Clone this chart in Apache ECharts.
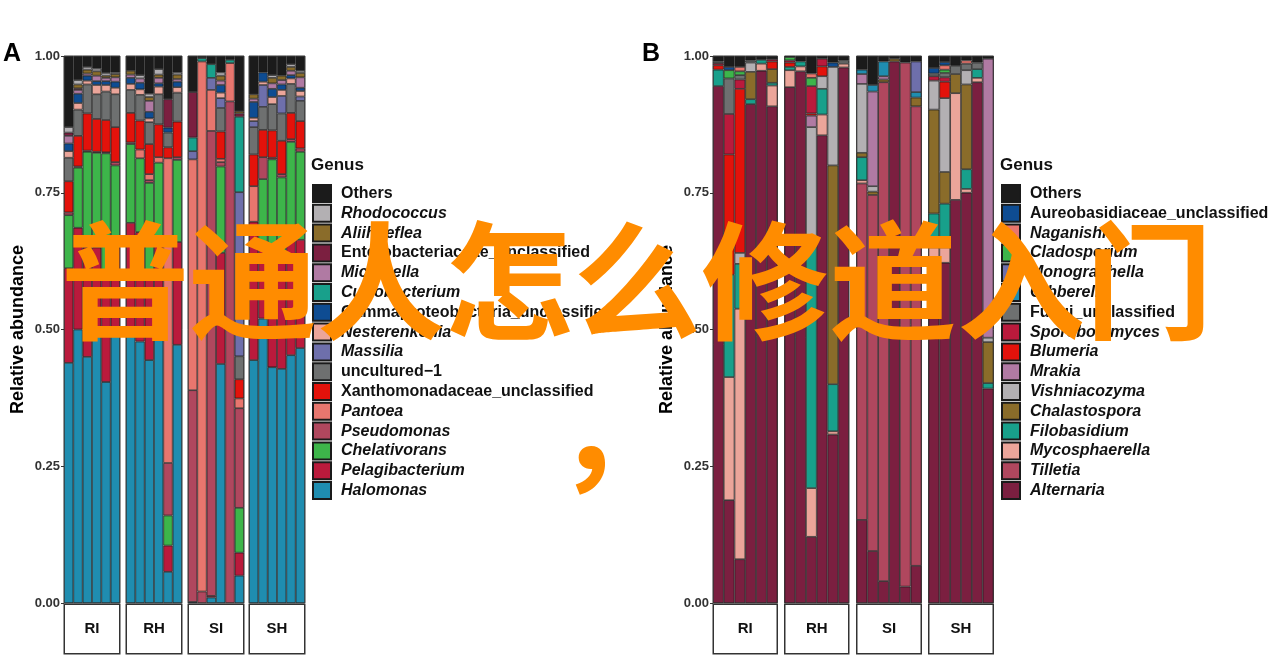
<!DOCTYPE html>
<html><head><meta charset="utf-8">
<script src="https://cdn.jsdelivr.net/npm/echarts@6/dist/echarts.min.js"></script>
<style>html,body{margin:0;padding:0;background:#fff}#c{width:1270px;height:663px}</style>
</head><body><div id="c"></div>
<script>
// ---------- shared ----------
const facets = ['RI', 'RH', 'SI', 'SH'];
const samples = ['1', '2', '3', '4', '5', '6'];
const yTicks = [0, 0.25, 0.5, 0.75, 1];

// ---------- Panel A (bacteria), legend order top -> bottom ----------
const bacGenera = ['Others', 'Rhodococcus', 'Aliihoeflea', 'Enterobacteriaceae_unclassified', 'Microcella',
  'Curtobacterium', 'Gammaproteobacteria_unclassified', 'Nesterenkonia', 'Massilia', 'uncultured\u22121',
  'Xanthomonadaceae_unclassified', 'Pantoea', 'Pseudomonas', 'Chelativorans', 'Pelagibacterium', 'Halomonas'];
const bacUpright = ['Others', 'Enterobacteriaceae_unclassified', 'Gammaproteobacteria_unclassified', 'uncultured\u22121', 'Xanthomonadaceae_unclassified'];
const bacColors = ['#1b1b1b', '#b3b0b3', '#8a6c2a', '#7b1f40', '#b07aa3', '#18a08b', '#0e4c92', '#eba59a',
  '#6e6fab', '#6e7070', '#e3120b', '#e8766e', '#b0475e', '#3db54a', '#ba1a3c', '#1f8db0'];
// values per bar: RI1..6, RH1..6, SI1..6, SH1..6
const bacOthers         = [.13,.044,.02,.023,.031,.03, .027,.035,.069,.024,.079,.03, .066,.004,.015,.03,.007,.101, .07,.03,.035,.036,.015,.027];
const bacRhodococcus    = [.01,.008,.005,.005,.005,.003, 0,.006,.006,.01,0,.004, 0,0,0,.006,0,0, 0,0,.005,0,.005,.004];
const bacAliihoeflea    = [0,.007,.007,.008,.004,.006, .007,0,.007,.006,0,.008, 0,0,0,.009,0,.004, .008,0,.01,.008,.007,.008];
const bacEntero         = [.006,.003,0,0,0,0, 0,0,0,0,.052,0, .083,0,0,0,0,.006, 0,0,0,0,0,0];
const bacMicrocella     = [.014,.007,.004,.01,.006,.008, .006,.008,.02,.01,0,.005, 0,0,0,.008,0,0, .006,0,.01,.008,.008,.019];
const bacCurtobacterium = [0,0,0,0,0,0, 0,0,0,0,0,0, .025,.006,.025,0,.006,.138, 0,0,0,0,0,0];
const bacGamma          = [.014,.017,.009,.007,.007,.011, .011,.012,.012,.006,.009,.01, 0,0,0,.014,0,0, .029,.017,.015,.01,.006,.006];
const bacNesterenkonia  = [.012,.012,.007,.017,.012,.012, .011,.01,.007,.014,0,.01, 0,0,0,.01,0,0, .006,.006,.013,.011,.01,.01];
const bacMassilia       = [0,0,0,0,0,0, 0,0,0,0,0,0, .015,0,.022,.018,0,.30, .011,.04,0,.032,0,.008];
const bacUncultured     = [.043,.048,.053,.045,.052,.06, .042,.047,.04,.055,.027,.053, 0,0,0,.043,0,.042, .05,.042,.048,.05,.053,.037];
const bacXantho         = [.057,.056,.068,.06,.059,.064, .054,.053,.055,.06,.02,.065, 0,0,0,.05,0,.035, .058,.05,.05,.061,.048,.05];
const bacPantoea        = [0,0,0,0,0,0, 0,.016,.011,.01,.557,0, .422,.969,.075,.006,.07,.018, .065,0,0,0,0,0];
const bacPseudomonas    = [.005,.002,.002,.002,.002,.006, .003,0,.005,0,.096,.005, .387,.021,.85,.008,.917,.182, 0,.04,.003,.006,.005,.006];
const bacChelativorans  = [.097,.11,.175,.173,.222,.15, .144,.135,.168,.145,.055,.15, 0,0,0,.158,0,.082, 0,.115,.18,.14,.173,.161];
const bacPelagibacterium= [.173,.186,.20,.15,.196,.15, .205,.20,.156,.17,.048,.188, 0,0,.003,.203,0,.042, .253,.14,.20,.21,.217,.198];
const bacHalomonas      = [.439,.50,.45,.50,.404,.50, .49,.478,.444,.49,.057,.472, .002,0,.01,.437,0,.05, .444,.52,.431,.428,.453,.466];
const bacValues = [bacOthers, bacRhodococcus, bacAliihoeflea, bacEntero, bacMicrocella, bacCurtobacterium, bacGamma,
  bacNesterenkonia, bacMassilia, bacUncultured, bacXantho, bacPantoea, bacPseudomonas, bacChelativorans, bacPelagibacterium, bacHalomonas];

// ---------- Panel B (fungi), legend order top -> bottom ----------
const funGenera = ['Others', 'Aureobasidiaceae_unclassified', 'Naganishia', 'Cladosporium', 'Monographella', 'Gibberella',
  'Fungi_unclassified', 'Sporobolomyces', 'Blumeria', 'Mrakia', 'Vishniacozyma', 'Chalastospora', 'Filobasidium',
  'Mycosphaerella', 'Tilletia', 'Alternaria'];
const funUpright = ['Others', 'Aureobasidiaceae_unclassified', 'Fungi_unclassified'];
const funColors = ['#1b1b1b', '#0e4c92', '#e8766e', '#3db54a', '#6e6fab', '#1f8db0', '#6e7070', '#ba1a3c', '#e3120b',
  '#b07aa3', '#b3b0b3', '#8a6c2a', '#18a08b', '#eba59a', '#b0475e', '#7b1f40'];
const funOthers         = [.01,.02,.02,.008,.007,.006, .002,.01,.032,.005,.012,.008, .025,.053,.01,.005,.012,.01, .022,.011,.018,.008,.012,.005];
const funAureo          = [0,.006,0,0,0,0, 0,0,0,0,.008,0, 0,0,0,0,0,0, .01,.006,0,0,0,0];
const funNaganishia     = [0,0,.008,0,0,0, 0,0,.008,0,0,0, 0,0,0,0,0,0, 0,.008,0,.006,0,0];
const funCladosporium   = [0,.015,.007,0,0,0, .006,0,.015,0,0,0, 0,0,0,0,0,0, 0,.006,0,0,0,0];
const funMonographella  = [0,0,0,0,0,0, 0,0,0,0,0,0, 0,0,0,0,0,.056, 0,0,0,0,0,0];
const funGibberella     = [0,0,0,0,0,0, 0,0,0,0,0,0, .008,.012,.027,0,0,.01, 0,0,0,0,0,0];
const funFungiUnc       = [.003,.065,.008,.004,0,0, 0,0,0,0,0,.006, 0,0,0,0,0,0, .005,.008,.015,.012,.012,0];
const funSporobolomyces = [.004,.074,.017,0,0,.004, .004,0,.05,.014,0,0, 0,0,0,0,0,0, .008,.008,0,0,0,0];
const funBlumeria       = [.008,.22,.30,0,0,.014, .008,0,.004,.018,0,0, 0,0,0,0,0,0, 0,.03,0,0,0,0];
const funMrakia         = [0,0,0,0,0,0, 0,0,.021,0,0,0, .018,.173,.006,0,0,0, 0,0,0,0,0,.51];
const funVishniacozyma  = [0,0,.02,.017,0,0, 0,0,.21,.023,.18,0, .126,.01,0,0,0,0, .053,.135,0,.026,0,.008];
const funChalastospora  = [0,0,0,.05,0,.025, 0,0,0,0,.40,0, .008,.006,.005,.005,0,.016, .19,.058,.035,.155,0,.075];
const funFilobasidium   = [.03,.187,.082,.009,.007,.005, .006,.009,.45,.047,.086,0, .042,0,0,0,0,0, .062,.08,0,.036,.016,.01];
const funMycosphaerella = [0,.225,.458,0,.013,.038, .031,.009,.089,.038,.006,.007, .006,0,0,0,0,0, .05,.028,.195,.007,.008,0];
const funTilletia       = [0,0,0,0,0,0, 0,0,0,0,0,0, .615,.651,.912,0,.958,.84, 0,0,0,0,0,0];
const funAlternaria     = [.945,.188,.08,.912,.973,.908, .943,.972,.121,.855,.308,.979, .152,.095,.04,.99,.03,.068, .60,.622,.737,.75,.952,.392];
const funValues = [funOthers, funAureo, funNaganishia, funCladosporium, funMonographella, funGibberella, funFungiUnc,
  funSporobolomyces, funBlumeria, funMrakia, funVishniacozyma, funChalastospora, funFilobasidium, funMycosphaerella, funTilletia, funAlternaria];

// ---------- layout ----------
const FONT = '"Liberation Sans", Arial, sans-serif';
const panelGrids = [
  [{left: 64, width: 56}, {left: 126, width: 56}, {left: 188, width: 56}, {left: 249, width: 56}],
  [{left: 713, width: 64.5}, {left: 784.5, width: 64.5}, {left: 856.5, width: 65}, {left: 928.5, width: 65}]
];
const TOP = 56, H = 547;

const grids = [], xAxes = [], yAxes = [], series = [];
const panels = [
  {genera: bacGenera, colors: bacColors, values: bacValues},
  {genera: funGenera, colors: funColors, values: funValues}
];
panels.forEach((p, pi) => {
  panelGrids[pi].forEach((g, fi) => {
    const gi = grids.length;
    grids.push({left: g.left, top: TOP, width: g.width, height: H, show: true,
      borderColor: '#555', borderWidth: 1, backgroundColor: 'transparent', containLabel: false});
    xAxes.push({type: 'category', gridIndex: gi, data: samples, boundaryGap: true,
      axisLine: {show: false}, axisTick: {show: false}, axisLabel: {show: false}, splitLine: {show: false},
      name: '{s|' + facets[fi] + '}', nameLocation: 'middle', nameGap: 2,
      nameTextStyle: {rich: {s: {fontFamily: FONT, fontSize: 15, fontWeight: 'bold', color: '#111',
        width: g.width - 2, height: 48, lineHeight: 48, align: 'center', verticalAlign: 'middle',
        borderColor: '#333', borderWidth: 1.5, backgroundColor: '#fff'}}}});
    const first = fi === 0;
    yAxes.push({type: 'value', gridIndex: gi, min: yTicks[0], max: yTicks[yTicks.length - 1], interval: 0.25,
      splitLine: {show: false}, axisLine: {show: false},
      axisTick: {show: first, length: 3, lineStyle: {color: '#333'}},
      axisLabel: {show: first, formatter: v => v.toFixed(2), fontFamily: FONT, fontSize: 13, fontWeight: 'bold', color: '#333', margin: 4},
      name: first ? 'Relative abundance' : '', nameLocation: 'middle', nameGap: 37,
      nameTextStyle: {fontFamily: FONT, fontSize: 18, fontWeight: 'bold', color: '#000'}});
    // stack bottom -> top = reverse legend order
    for (let k = p.genera.length - 1; k >= 0; k--) {
      series.push({type: 'bar', name: p.genera[k], xAxisIndex: gi, yAxisIndex: gi, stack: 's' + gi,
        barCategoryGap: '0%', barGap: '0%',
        data: p.values[k].slice(fi * 6, fi * 6 + 6).map(v => v === 0 ? '-' : v),
        itemStyle: {color: p.colors[k], borderColor: '#1a1a1a', borderWidth: 0.7},
        emphasis: {disabled: true}, silent: true});
    }
  });
});

function legendFor(genera, upright, left) {
  return {orient: 'vertical', left: left, top: 184, padding: 0, itemWidth: 18, itemHeight: 17, itemGap: 0.8,
    icon: 'rect', selectedMode: false, data: genera,
    formatter: n => upright.includes(n) ? '{n|' + n + '}' : '{i|' + n + '}',
    textStyle: {fontFamily: FONT, fontSize: 16, fontWeight: 'bold', color: '#111', lineHeight: 18, padding: [0, 0, 0, 5],
      rich: {n: {fontFamily: FONT, fontSize: 16, fontWeight: 'bold', color: '#111', lineHeight: 18},
             i: {fontFamily: FONT, fontSize: 16, fontWeight: 'bold', fontStyle: 'italic', color: '#111', lineHeight: 18}}}};
}

const chart = echarts.init(document.getElementById('c'), null, {renderer: 'canvas'});
chart.setOption({
  animation: false,
  backgroundColor: '#fff',
  grid: grids, xAxis: xAxes, yAxis: yAxes, series: series,
  legend: [legendFor(bacGenera, bacUpright, 312), legendFor(funGenera, funUpright, 1001)],
  graphic: [
    {type: 'text', left: 3, top: 42, style: {text: 'A', font: 'bold 25px ' + FONT, fill: '#000'}},
    {type: 'text', left: 642, top: 42, style: {text: 'B', font: 'bold 25px ' + FONT, fill: '#000'}},
    {type: 'text', left: 311, top: 157, style: {text: 'Genus', font: 'bold 17px ' + FONT, fill: '#111'}},
    {type: 'text', left: 1000, top: 157, style: {text: 'Genus', font: 'bold 17px ' + FONT, fill: '#111'}},
    {type: 'text', z: 100, x: 637, y: 217,
      style: {text: '普通人怎么修道入门', font: 'bold 128px "Noto Sans CJK SC"', fill: '#ff8c00',
        textAlign: 'center', textVerticalAlign: 'top'}},
    {type: 'text', z: 100, x: 555, y: 364,
      style: {text: '，', font: 'bold 128px "Noto Sans CJK SC"', fill: '#ff8c00',
        textAlign: 'left', textVerticalAlign: 'top'}}
  ]
});
</script></body></html>
